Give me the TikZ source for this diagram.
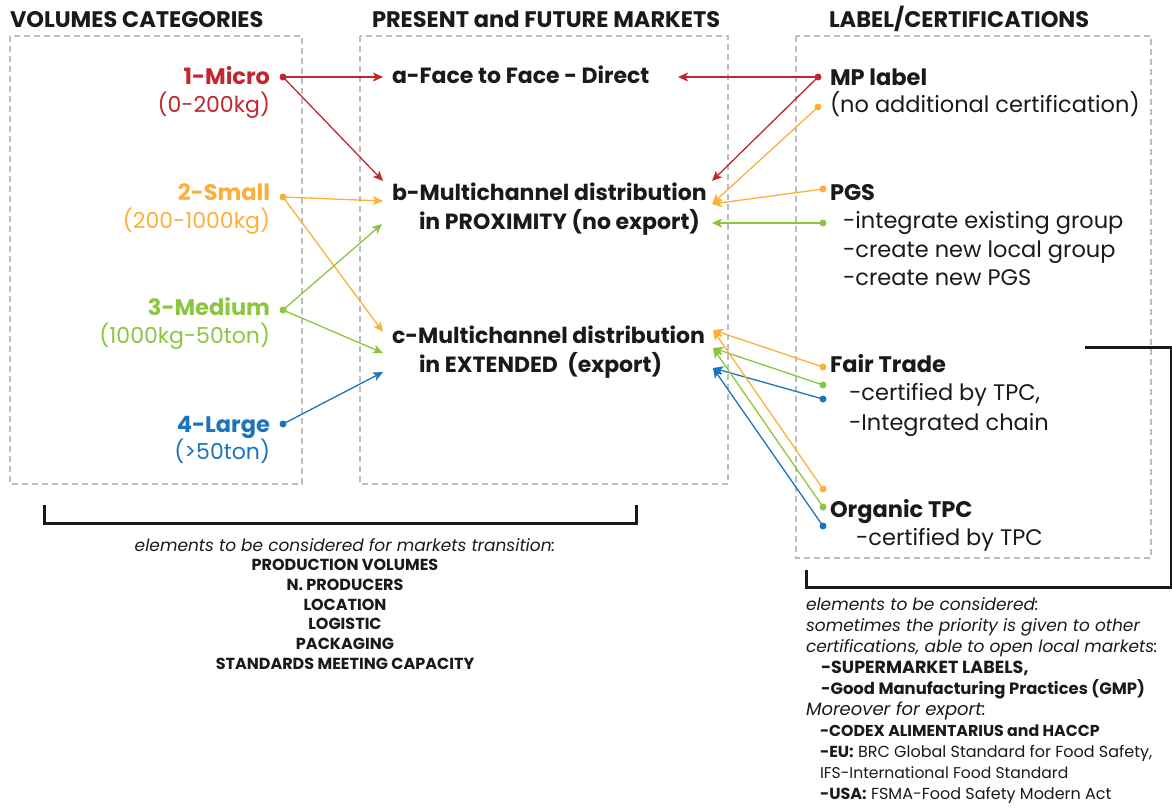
\documentclass[tikz,border=0pt]{standalone}
\usepackage{fontspec}
\setmainfont{Poppins}
\usetikzlibrary{arrows.meta,positioning}

\definecolor{micro}{HTML}{C1272D}
\definecolor{small}{HTML}{FBB03B}
\definecolor{medium}{HTML}{8CC63F}
\definecolor{large}{HTML}{1C75BC}
\definecolor{frame}{HTML}{BDBDBD}
\definecolor{ink}{HTML}{1A1A1A}

\begin{document}
\begin{tikzpicture}[x=1pt,y=-1pt,text=ink]
  \tikzset{every node/.style={inner sep=0pt,outer sep=0pt},
    column/.style={draw=frame,line width=1.5pt,dash pattern=on 6pt off 4pt},
    heading/.style={anchor=base west,font=\fontsize{22.5}{22.5}\selectfont\bfseries},
    volume/.style={anchor=base east,text=#1,font=\fontsize{22.5}{22.5}\selectfont\bfseries},
    range/.style={anchor=base east,text=#1,font=\fontsize{22}{22}\selectfont},
    market/.style={anchor=base west,font=\fontsize{22}{22}\selectfont\bfseries},
    label/.style={anchor=base west,font=\fontsize{22.5}{22.5}\selectfont\bfseries},
    detail/.style={anchor=base west,font=\fontsize{22.5}{22.5}\selectfont},
    dot/.style={circle,fill=#1,minimum size=7pt},
    link/.style={draw=#1,line width=1.3pt,-{Stealth[length=10pt,width=9pt,inset=2.5pt]}},
    bracket/.style={line width=3pt,draw=ink}}
  \useasboundingbox (0,0) rectangle (1172,807);

  % columns
  \draw[column] (10,36) rectangle (302,484);
  \draw[column] (360,36) rectangle (728,484);
  \draw[column] (796,36) rectangle (1151,558);
  \node[heading] (hvol) at (10,27) {VOLUMES CATEGORIES};
  \node[heading] (hmkt) at (372,27) {PRESENT and FUTURE MARKETS};
  \node[heading] (hlab) at (829,27) {LABEL/CERTIFICATIONS};

  % volumes
  \node[volume=micro] (micro) at (270,84) {1-Micro};
  \node[range=micro] (microkg) at (270,112) {(0-200kg)};
  \node[volume=small] (small) at (270,200) {2-Small};
  \node[range=small] (smallkg) at (270,228) {(200-1000kg)};
  \node[volume=medium] (medium) at (270,315) {3-Medium};
  \node[range=medium] (mediumkg) at (270,343) {(1000kg-50ton)};
  \node[volume=large] (large) at (270,432) {4-Large};
  \node[range=large] (largekg) at (270,459) {(>50ton)};
  \node[dot=micro] (dmicro) at (283,77) {};
  \node[dot=small] (dsmall) at (283,197) {};
  \node[dot=medium] (dmedium) at (283,310) {};
  \node[dot=large] (dlarge) at (283,424) {};

  % markets
  \node[market] (direct) at (392,83) {a-Face to Face - Direct};
  \node[market] (proximity) at (392,200) {b-Multichannel distribution};
  \node[market] (proximity2) at (419,229) {in PROXIMITY (no export)};
  \node[market] (extended) at (392,343) {c-Multichannel distribution};
  \node[market] (extended2) at (419,372) {in EXTENDED\ \ (export)};
  \coordinate (aL) at (383,77);
  \coordinate (aR) at (678,77);
  \coordinate (bL1) at (383,181);
  \coordinate (bL2) at (383,201);
  \coordinate (bL3) at (382,224);
  \coordinate (bR1) at (712,181);
  \coordinate (bR2) at (712,204);
  \coordinate (bR3) at (712,223);
  \coordinate (cL1) at (383,332);
  \coordinate (cL2) at (383,353);
  \coordinate (cL3) at (383,372);
  \coordinate (cR1) at (713,330);
  \coordinate (cR2) at (713,348);
  \coordinate (cR3) at (713,368);

  % labels
  \node[label] (mplabel) at (830,85) {MP label};
  \node[detail] (mpnote) at (830,112) {(no additional certification)};
  \node[label] (pgs) at (830,200) {PGS};
  \node[detail] (pgs1) at (843,228) {-integrate existing group};
  \node[detail] (pgs2) at (843,257) {-create new local group};
  \node[detail] (pgs3) at (843,285) {-create new PGS};
  \node[label] (fairtrade) at (830,372) {Fair Trade};
  \node[detail] (ft1) at (849,400) {-certified by TPC,};
  \node[detail] (ft2) at (849,430) {-Integrated chain};
  \node[label] (organic) at (830,517) {Organic TPC};
  \node[detail] (ot1) at (856,545) {-certified by TPC};
  \node[dot=micro] (dmp) at (818,77) {};
  \node[dot=small] (dmpo) at (818,107) {};
  \node[dot=small] (dpgso) at (823,189) {};
  \node[dot=medium] (dpgsg) at (823,223) {};
  \node[dot=small] (dfto) at (823,367) {};
  \node[dot=medium] (dftg) at (823,385) {};
  \node[dot=large] (dftb) at (823,399) {};
  \node[dot=small] (doto) at (823,489) {};
  \node[dot=medium] (dotg) at (823,507) {};
  \node[dot=large] (dotb) at (823,526) {};

  % connectors
  \draw[link=micro] (dmicro.center) -- (aL);
  \draw[link=micro] (dmicro.center) -- (bL1);
  \draw[link=small] (dsmall.center) -- (bL2);
  \draw[link=small] (dsmall.center) -- (cL1);
  \draw[link=medium] (dmedium.center) -- (bL3);
  \draw[link=medium] (dmedium.center) -- (cL2);
  \draw[link=large] (dlarge.center) -- (cL3);
  \draw[link=micro] (dmp.center) -- (aR);
  \draw[link=micro] (dmp.center) -- (bR1);
  \draw[link=small] (dmpo.center) -- (bR2);
  \draw[link=small] (dpgso.center) -- (bR2);
  \draw[link=medium] (dpgsg.center) -- (bR3);
  \draw[link=small] (dfto.center) -- (cR1);
  \draw[link=medium] (dftg.center) -- (cR2);
  \draw[link=large] (dftb.center) -- (cR3);
  \draw[link=small] (doto.center) -- (cR1);
  \draw[link=medium] (dotg.center) -- (cR2);
  \draw[link=large] (dotb.center) -- (cR3);

  % notes
  \draw[bracket] (44,505) |- (636,523) -- (636,505);
  \node[anchor=north,align=center,font=\fontsize{17}{19.7}\selectfont] (transition) at (345,538)
    {\itshape elements to be considered for markets transition:\\
     \fontsize{16}{19.7}\selectfont\bfseries PRODUCTION VOLUMES\\
     \fontsize{16}{19.7}\selectfont\bfseries N. PRODUCERS\\
     \fontsize{16}{19.7}\selectfont\bfseries LOCATION\\
     \fontsize{16}{19.7}\selectfont\bfseries LOGISTIC\\
     \fontsize{16}{19.7}\selectfont\bfseries PACKAGING\\
     \fontsize{16}{19.7}\selectfont\bfseries STANDARDS MEETING CAPACITY};
  \draw[bracket] (1085,347) -- (1171,347) |- (806,587) -- (806,570);
  \node[anchor=north west,align=left,font=\fontsize{17}{20.9}\selectfont] (others) at (806,598)
    {\itshape elements to be considered:\\
     \itshape sometimes the priority is given to other\\
     \itshape certifications, able to open local markets:\\
     \hspace*{15pt}\fontsize{17.5}{20.9}\selectfont\bfseries -SUPERMARKET LABELS,\\
     \hspace*{15pt}\fontsize{16.4}{20.9}\selectfont\bfseries -Good Manufacturing Practices (GMP)\\
     \fontsize{18}{20.9}\selectfont\itshape Moreover for export:\\
     \hspace*{14pt}\fontsize{15.8}{20.9}\selectfont\bfseries -CODEX ALIMENTARIUS and HACCP\\
     \hspace*{14pt}\fontsize{16}{20.9}\selectfont\textbf{-EU:} BRC Global Standard for Food Safety,\\
     \hspace*{14pt}\fontsize{15.6}{20.9}\selectfont IFS-International Food Standard\\
     \hspace*{14pt}\fontsize{16}{20.9}\selectfont\textbf{-USA:} FSMA-Food Safety Modern Act};
\end{tikzpicture}
\end{document}
